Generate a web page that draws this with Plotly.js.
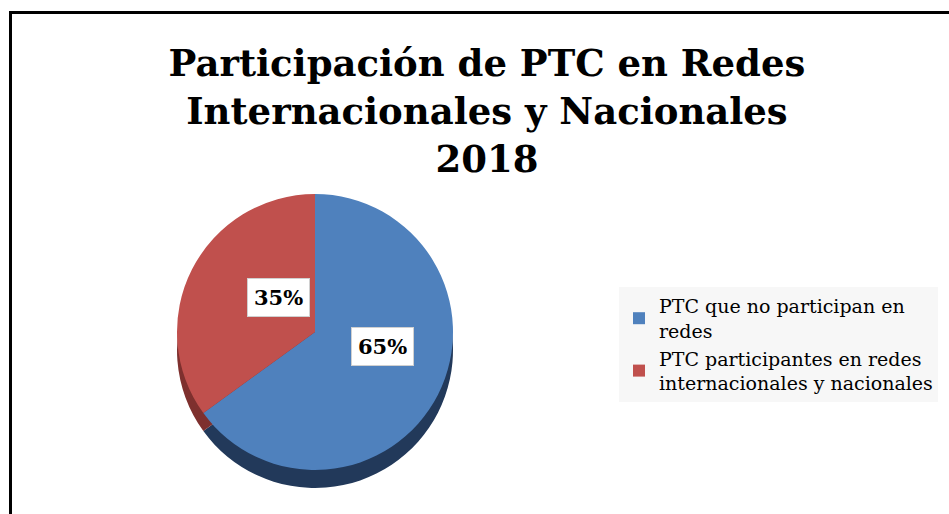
<!DOCTYPE html>
<html>
<head>
<meta charset="utf-8">
<script src="https://cdn.plot.ly/plotly-3.0.1.min.js"></script>
<style>
  body { margin: 0; background: #fff; }
  #pie { width: 949px; height: 514px; }
</style>
</head>
<body>
<div id="pie"></div>
<script>
// datos del grafico
var categorias = ['PTC que no participan en<br>redes', 'PTC participantes en redes<br>internacionales y nacionales'];
var porcentajes = [65, 35];
var etiquetas = ['65%', '35%'];
var colores = ['#4F81BD', '#C0504D'];
var coloresLado = ['#22395a', '#7e302e'];

// geometria del pastel (px)
var W = 949, H = 514;
var cx = 315, cy = 332, R = 138, grosor = 18;

function dominio(dy) {
    return {
        x: [(cx - R) / W, (cx + R) / W],
        y: [1 - (cy + R + dy) / H, 1 - (cy - R + dy) / H]
    };
}

var lado = {
    type: 'pie',
    labels: categorias.map(function (c) { return c + ' '; }),
    values: porcentajes,
    sort: false,
    direction: 'clockwise',
    rotation: 0,
    marker: { colors: coloresLado },
    textinfo: 'none',
    hoverinfo: 'skip',
    showlegend: false,
    domain: dominio(grosor)
};

var cara = {
    type: 'pie',
    labels: categorias,
    values: porcentajes,
    sort: false,
    direction: 'clockwise',
    rotation: 0,
    marker: { colors: colores },
    textinfo: 'none',
    domain: dominio(0)
};

// cajas blancas con el porcentaje, en el centro de cada rebanada
var total = porcentajes.reduce(function (a, b) { return a + b; }, 0);
var acum = 0;
var notas = porcentajes.map(function (v, i) {
    var mid = (acum + v / 2) / total * 2 * Math.PI;
    acum += v;
    var px = cx + 0.55 * R * Math.sin(mid);
    var py = cy - 0.55 * R * Math.cos(mid);
    return {
        xref: 'paper', yref: 'paper', x: px / W, y: 1 - py / H,
        text: '<b>' + etiquetas[i] + '</b>', showarrow: false,
        font: { family: 'DejaVu Serif', size: 21, color: '#000' },
        bgcolor: '#fff', bordercolor: '#d0d0d0', borderwidth: 1, borderpad: 6
    };
});

var layout = {
    width: W, height: H,
    margin: { l: 0, r: 0, t: 0, b: 0 },
    paper_bgcolor: '#fff',
    title: {
        text: '<b>Participación de PTC en Redes<br>Internacionales y Nacionales<br>2018</b>',
        font: { family: 'DejaVu Serif', size: 37, color: '#000' },
        x: 487 / W, xanchor: 'center',
        y: 1 - 76 / H, yanchor: 'top', yref: 'container'
    },
    legend: {
        x: 619 / W, xanchor: 'left',
        y: 1 - 287 / H, yanchor: 'top',
        bgcolor: '#f7f7f7',
        font: { family: 'DejaVu Serif', size: 19, color: '#000' },
        tracegroupgap: 0
    },
    annotations: notas,
    shapes: [{
        type: 'rect', xref: 'paper', yref: 'paper',
        x0: 10.5 / W, x1: 1.02, y0: -0.02, y1: 1 - 12.5 / H,
        line: { color: '#000', width: 3 }
    }]
};

Plotly.newPlot('pie', [lado, cara], layout, { displayModeBar: false });
</script>
</body>
</html>
